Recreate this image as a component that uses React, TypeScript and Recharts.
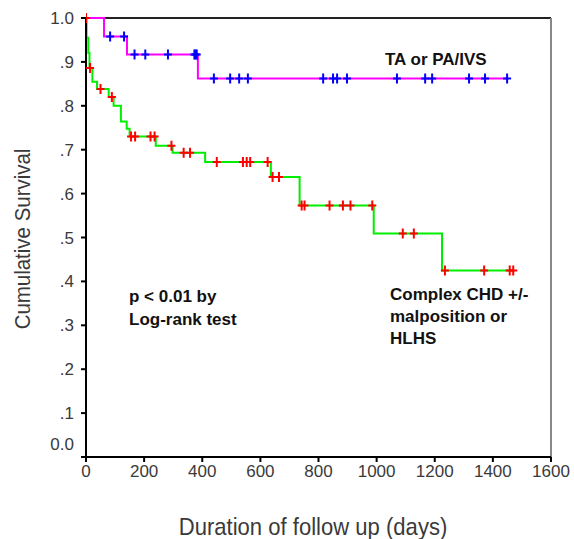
import React from 'react'
import { ComposedChart, Line, Scatter, XAxis, YAxis, ReferenceLine } from 'recharts'

const xTicks = [0, 200, 400, 600, 800, 1000, 1200, 1400, 1600]
const yTicks = [0, 0.1, 0.2, 0.3, 0.4, 0.5, 0.6, 0.7, 0.8, 0.9, 1]

// TA or PA/IVS
const taSteps = [
  { t: 0, s: 1 },
  { t: 62, s: 0.958 },
  { t: 141, s: 0.917 },
  { t: 385, s: 0.862 },
  { t: 1449, s: 0.862 },
]
const taCensored = [
  { t: 83, s: 0.958 },
  { t: 131, s: 0.958 },
  { t: 167, s: 0.917 },
  { t: 204, s: 0.917 },
  { t: 282, s: 0.917 },
  { t: 373, s: 0.917 },
  { t: 377, s: 0.917 },
  { t: 381, s: 0.917 },
  { t: 440, s: 0.862 },
  { t: 496, s: 0.862 },
  { t: 527, s: 0.862 },
  { t: 557, s: 0.862 },
  { t: 816, s: 0.862 },
  { t: 850, s: 0.862 },
  { t: 864, s: 0.862 },
  { t: 898, s: 0.862 },
  { t: 1070, s: 0.862 },
  { t: 1167, s: 0.862 },
  { t: 1191, s: 0.862 },
  { t: 1318, s: 0.862 },
  { t: 1373, s: 0.862 },
  { t: 1449, s: 0.862 },
]

// Complex CHD +/- malposition or HLHS
const chdSteps = [
  { t: 0, s: 1 },
  { t: 2, s: 0.955 },
  { t: 8, s: 0.92 },
  { t: 12, s: 0.886 },
  { t: 22, s: 0.855 },
  { t: 38, s: 0.838 },
  { t: 78, s: 0.82 },
  { t: 95, s: 0.8 },
  { t: 120, s: 0.764 },
  { t: 140, s: 0.748 },
  { t: 150, s: 0.73 },
  { t: 240, s: 0.709 },
  { t: 298, s: 0.693 },
  { t: 410, s: 0.672 },
  { t: 636, s: 0.638 },
  { t: 735, s: 0.573 },
  { t: 990, s: 0.509 },
  { t: 1225, s: 0.425 },
  { t: 1470, s: 0.425 },
]
const chdCensored = [
  { t: 0, s: 1 },
  { t: 14, s: 0.886 },
  { t: 50, s: 0.838 },
  { t: 89, s: 0.82 },
  { t: 155, s: 0.73 },
  { t: 169, s: 0.73 },
  { t: 222, s: 0.73 },
  { t: 236, s: 0.73 },
  { t: 294, s: 0.709 },
  { t: 336, s: 0.693 },
  { t: 358, s: 0.693 },
  { t: 450, s: 0.672 },
  { t: 540, s: 0.672 },
  { t: 553, s: 0.672 },
  { t: 565, s: 0.672 },
  { t: 625, s: 0.672 },
  { t: 642, s: 0.638 },
  { t: 664, s: 0.638 },
  { t: 742, s: 0.573 },
  { t: 752, s: 0.573 },
  { t: 838, s: 0.573 },
  { t: 884, s: 0.573 },
  { t: 910, s: 0.573 },
  { t: 985, s: 0.573 },
  { t: 1090, s: 0.509 },
  { t: 1128, s: 0.509 },
  { t: 1235, s: 0.425 },
  { t: 1370, s: 0.425 },
  { t: 1458, s: 0.425 },
  { t: 1470, s: 0.425 },
]

const font = 'Liberation Sans, Arial, sans-serif'
const textGrey = '#3a3a3a'

const fmtY = (v: number) => (v === 0 ? '0.0' : v === 1 ? '1.0' : '.' + Math.round(v * 10))

const XTick = (props: any) => {
  const { x, y, payload } = props
  return (
    <text x={x} y={y + 13} textAnchor="middle" fontSize={17} fill={textGrey} fontFamily={font}>
      {payload.value}
    </text>
  )
}

const YTick = (props: any) => {
  const { x, y, payload } = props
  // the 0.0 label sits a bit above its tick in the original
  const shift = payload.value === 0 ? -7 : 6
  return (
    <text x={x - 5} y={y + shift} textAnchor="end" fontSize={17} fill={textGrey} fontFamily={font}>
      {fmtY(payload.value)}
    </text>
  )
}

const cross = (color: string) => (props: any) => {
  const { cx, cy } = props
  return <path d={`M${cx - 4},${cy}h8M${cx},${cy - 5}v10`} stroke={color} strokeWidth={2} fill="none" />
}

const App = () => {
  return (
    <div style={{ position: 'absolute', left: 0, top: 0, width: 574, height: 539, background: '#fff' }}>
      <ComposedChart width={574} height={539} margin={{ top: 18, right: 23, bottom: 52, left: 0 }}>
        <XAxis
          type="number"
          dataKey="t"
          domain={[0, 1600]}
          ticks={xTicks}
          allowDataOverflow
          tick={<XTick />}
          tickSize={5}
          height={30}
          axisLine={{ stroke: '#000', strokeWidth: 2 }}
          tickLine={{ stroke: '#000', strokeWidth: 2 }}
        />
        <YAxis
          type="number"
          domain={[0, 1]}
          ticks={yTicks}
          tick={<YTick />}
          tickSize={5}
          width={86}
          axisLine={{ stroke: '#000', strokeWidth: 2 }}
          tickLine={{ stroke: '#000', strokeWidth: 2 }}
        />
        <ReferenceLine y={1} stroke="#222" strokeWidth={2} />
        <ReferenceLine x={1600} stroke="#888" strokeWidth={2} />
        <Line data={chdSteps} dataKey="s" type="stepAfter" stroke="#00ee00" strokeWidth={2} dot={false} isAnimationActive={false} />
        <Line data={taSteps} dataKey="s" type="stepAfter" stroke="#ff00ff" strokeWidth={2} dot={false} isAnimationActive={false} />
        <Scatter data={chdCensored} dataKey="s" shape={cross('#ff0000')} isAnimationActive={false} />
        <Scatter data={taCensored} dataKey="s" shape={cross('#0000ff')} isAnimationActive={false} />
      </ComposedChart>
      <svg width={574} height={539} style={{ position: 'absolute', left: 0, top: 0, pointerEvents: 'none' }}>
        <text transform="translate(30,239) rotate(-90) scale(0.93,1)" textAnchor="middle" fontSize={22} fill={textGrey} fontFamily={font}>
          Cumulative Survival
        </text>
        <text transform="translate(313,535) scale(0.92,1)" textAnchor="middle" fontSize={24} fill={textGrey} fontFamily={font}>
          Duration of follow up (days)
        </text>
        <g fontFamily={font} fontWeight="bold" fontSize={17} fill="#111">
          <text x={385} y={65}>TA or PA/IVS</text>
          <text x={129} y={302}>p &lt; 0.01 by</text>
          <text x={129} y={325}>Log-rank test</text>
          <text x={390} y={300}>Complex CHD +/-</text>
          <text x={390} y={322}>malposition or</text>
          <text x={390} y={344}>HLHS</text>
        </g>
      </svg>
    </div>
  )
}

export default App
